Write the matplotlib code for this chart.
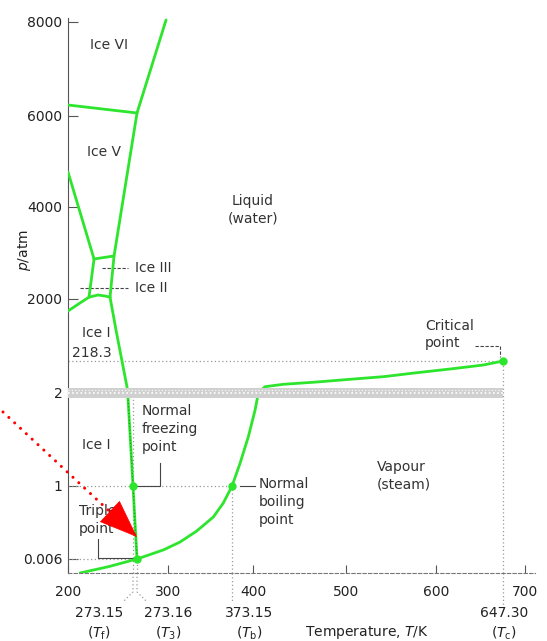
import numpy as np
import matplotlib
matplotlib.use('Agg')
import matplotlib.pyplot as plt

plt.rcParams['font.family'] = ['DejaVu Sans']
plt.rcParams['font.size'] = 10
plt.rcParams['mathtext.fontset'] = 'dejavusans'

# ---- schematic (broken) axis scales: value -> relative drawing position ----
T_anchor = [200, 273.15, 273.16, 300, 373.15, 400, 500, 600, 647.30, 700, 720]
T_pos = [68, 133, 137, 168, 232, 253, 346, 436, 503, 525, 543]
p_anchor = [0, 0.006, 1, 2, 218.3, 2000, 4000, 6000, 8000, 10000]
p_pos = [0, 14, 87, 180, 212, 274, 366, 457, 551, 645]

# ---- key points ----
Tf, T3, Tb, Tc = 273.15, 273.16, 373.15, 647.30
p3, p1, pc = 0.006, 1.0, 218.3

# ---- phase boundaries (T in K, p in atm) ----
iceVI_liq_T = [273.16, 298.3]
iceVI_liq_p = [6064, 8043]
iceV_VI_T = [200, 273.16]
iceV_VI_p = [6234, 6064]
iceV_liq_T = [273.16, 251.8, 247.3]
iceV_liq_p = [6064, 2935, 2040]
iceII_V_T = [200, 229.3]
iceII_V_p = [4769, 2870]
iceIII_V_T = [229.3, 251.8]
iceIII_V_p = [2870, 2935]
iceII_III_T = [229.3, 223.6]
iceII_III_p = [2870, 2040]
iceI_high_T = [200, 213.5, 223.6, 233.8, 241.6, 247.3]
iceI_high_p = [1655, 1885, 2040, 2087, 2065, 2040]
melt_T = [247.3, 254.0, 266.4, 267.2, 273.15, 273.16]
melt_p = [2040, 1109, 42.6, 2.0, 1.0, 0.006]
vap_T = [213.5, 245.4, 273.16, 295.9, 313.7, 332.8, 351.8, 363.2, 373.15,
         383.4, 394.0, 402.2, 405.7, 412.9, 432.6, 468.5, 504.4, 541.4,
         578.6, 609.9, 633.4, 647.30]
vap_p = [0, 0.0027, 0.006, 0.129, 0.237, 0.387, 0.578, 0.769, 1.0,
         1.244, 1.530, 1.817, 2.0, 44.6, 60.8, 76.3, 94.6, 112.2,
         139.2, 164.2, 191.3, 218.3]

pt_T = [Tf, T3, Tb, Tc]
pt_p = [p1, p3, p1, pc]

x_ticks = [200, 300, 400, 500, 600, 700]
y_ticks = [0.006, 1, 2, 2000, 4000, 6000, 8000]
y_ticklabels = ['0.006', '1', '2', '2000', '4000', '6000', '8000']

GREEN = '#2de52d'
TXT = '#333333'


def fx(v):
    return np.interp(v, T_anchor, T_pos)


def ix(v):
    return np.interp(v, T_pos, T_anchor)


def fy(v):
    return np.interp(v, p_anchor, p_pos)


def iy(v):
    return np.interp(v, p_pos, p_anchor)


fig = plt.figure(figsize=(5.47, 6.41), dpi=100)
ax = fig.add_axes([68 / 547, 68 / 641, 467 / 547, 555 / 641])
ax.set_xscale('function', functions=(fx, ix))
ax.set_yscale('function', functions=(fy, iy))
ax.set_xlim(200, 711)
ax.set_ylim(0, 8085)

for s in ['top', 'right']:
    ax.spines[s].set_visible(False)
ax.spines['left'].set_color('#555555')
ax.spines['bottom'].set_color('#777777')
ax.spines['bottom'].set_linestyle((0, (3, 2)))

ax.set_xticks(x_ticks)
ax.set_xticklabels([str(t) for t in x_ticks])
ax.set_yticks(y_ticks)
ax.set_yticklabels(y_ticklabels)
ax.tick_params(axis='y', direction='in', length=7, color='#555555', pad=4,
               labelcolor='#222222', labelsize=10)
ax.tick_params(axis='x', direction='in', length=6, color='#555555', pad=9,
               labelcolor='#222222', labelsize=10)
ax.minorticks_off()

# dotted guide lines
dot = dict(color='#9a9a9a', lw=0.9, ls=(0, (1, 2)))
ax.plot([200, Tc], [pc, pc], **dot)
ax.plot([200, Tb], [p1, p1], **dot)
ax.plot([200, T3], [p3, p3], **dot)
ax.plot([Tf, Tf], [0, 2], **dot)
ax.plot([T3, T3], [0, p3], **dot)
ax.plot([Tb, Tb], [0, p1], **dot)
ax.plot([Tc, Tc], [0, pc], **dot)
xt = ax.get_xaxis_transform()
ax.plot([Tf, Tf, 261.9], [0, -0.034, -0.052], transform=xt, clip_on=False, **dot)
ax.plot([T3, T3, 281.8], [0, -0.034, -0.052], transform=xt, clip_on=False, **dot)
ax.plot([Tb, Tb], [0, -0.052], transform=xt, clip_on=False, **dot)
ax.plot([Tc, Tc], [0, -0.058], transform=xt, clip_on=False, **dot)

# phase boundaries
lw = 2.0
for T, p in [(iceVI_liq_T, iceVI_liq_p), (iceV_VI_T, iceV_VI_p),
             (iceV_liq_T, iceV_liq_p), (iceII_V_T, iceII_V_p),
             (iceIII_V_T, iceIII_V_p), (iceII_III_T, iceII_III_p),
             (iceI_high_T, iceI_high_p), (melt_T, melt_p), (vap_T, vap_p)]:
    ax.plot(T, p, color=GREEN, lw=lw, solid_capstyle='round',
            solid_joinstyle='round', zorder=3)
# dark dotted overlay along the lower melting line
ax.plot(melt_T[3:], melt_p[3:], color='#1f8f1f', lw=0.8, ls=(0, (1, 2)), zorder=3.5)

# axis break band at p = 2
ax.fill_between([200, Tc], 1.95, 38, color='#d0d0d0', lw=0, zorder=4)
ax.plot([200, Tc], [2, 2], color='white', lw=1.2, ls=(0, (1, 1.5)), zorder=5)
ax.plot([200, Tc], [20, 20], color='white', lw=0.8, ls=(0, (1, 2)), zorder=5)

ax.plot(pt_T, pt_p, 'o', color=GREEN, ms=5, zorder=6)

# leaders
lead = dict(color='#444444', lw=0.8)
ax.plot([Tf, 293.1, 293.1], [p1, p1, 1.247], **lead)
ax.plot([Tb + 10, 402.2], [p1, p1], **lead)
ax.plot([233.8, 233.8, T3], [0.278, 0.02, 0.02], **lead)
dash = dict(color='#444444', lw=0.8, ls=(0, (3, 1.5)))
ax.plot([627.5, 645.2, 645.2], [649.3, 649.3, 333.3], **dash)
ax.plot([238.3, 267.5], [2674, 2674], **dash)
ax.plot([213.5, 267.5], [2239, 2239], **dash)

# region labels
tk = dict(color=TXT, fontsize=10, va='center', linespacing=1.35)
ax.text(224.8, 7511, 'Ice VI', **tk)
ax.text(221.4, 5209, 'Ice V', **tk)
ax.text(400, 3935, 'Liquid\n(water)', ha='center', multialignment='center', **tk)
ax.annotate('Ice III', xy=(267.5, 2674), xytext=(5, 0), textcoords='offset points', **tk)
ax.annotate('Ice II', xy=(267.5, 2239), xytext=(5, 0), textcoords='offset points', **tk)
ax.text(215.8, 1023, 'Ice I', **tk)
ax.text(204.5, 448, '218.3', **tk)
ax.text(587.8, 980, 'Critical\npoint', **tk)
ax.text(277.5, 1.613, 'Normal\nfreezing\npoint', **tk)
ax.text(215.8, 1.441, 'Ice I', **tk)
ax.text(406.5, 0.782, 'Normal\nboiling\npoint', **tk)
ax.text(534.4, 1.108, 'Vapour\n(steam)', **tk)
ax.text(212.4, 0.537, 'Triple\npoint', **tk)

# special temperature labels below the axis
specials = [(234.9, '273.15', r'($\mathit{T}_\mathrm{f}$)'),
            (300.0, '273.16', r'($\mathit{T}_\mathrm{3}$)'),
            (394.9, '373.15', r'($\mathit{T}_\mathrm{b}$)'),
            (649.0, '647.30', r'($\mathit{T}_\mathrm{c}$)')]
for xc, num, sym in specials:
    ax.text(xc, -0.072, num, transform=xt, ha='center', va='center',
            color='#222222', fontsize=10, clip_on=False)
    ax.text(xc, -0.108, sym, transform=xt, ha='center', va='center',
            color='#222222', fontsize=10, clip_on=False)

ax.text(523.3, -0.108, r'Temperature, $T$/K', transform=xt, ha='center',
        va='center', color='#222222', fontsize=10, clip_on=False)
ax.text(-0.094, 0.582, r'$p$/atm', transform=ax.transAxes, rotation=90,
        ha='center', va='center', color='#222222', fontsize=10)

# red pointer arrow to the triple point region
ax.annotate('', xy=(250.5, 0.612), xycoords='data',
            xytext=(3, 229), textcoords='figure pixels',
            arrowprops=dict(arrowstyle='-', color='red', lw=2.2,
                            linestyle=(0, (0.01, 2.6)), capstyle='round',
                            shrinkA=0, shrinkB=0), annotation_clip=False)
ax.annotate('', xy=(273.16, 0.306), xycoords='data',
            xytext=(250.0, 0.62), textcoords='data',
            arrowprops=dict(arrowstyle='-|>,head_length=2.6,head_width=1.0',
                            color='red', lw=0.5, mutation_scale=10,
                            shrinkA=0, shrinkB=0), zorder=7)

fig.savefig('out.png', dpi=100)
